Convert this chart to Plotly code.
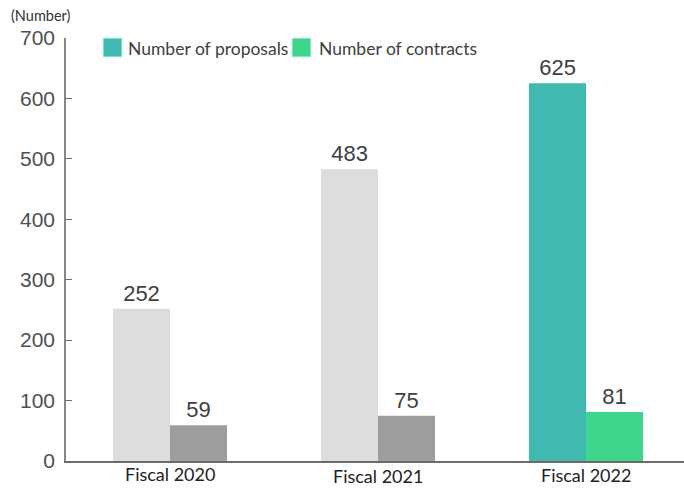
import plotly.graph_objects as go

# Proposal and contract counts by fiscal year
years = ["Fiscal 2020", "Fiscal 2021", "Fiscal 2022"]
proposals = [252, 483, 625]
contracts = [59, 75, 81]
y_ticks = [0, 100, 200, 300, 400, 500, 600, 700]

# Earlier years are muted in grey, the latest year is highlighted
proposal_colors = ["#dcdddc", "#dcdddc", "#40b9b0"]
contract_colors = ["#9d9e9d", "#9d9e9d", "#3dd68c"]
label_font = dict(family="Liberation Sans, Arial", size=22, color="#404040")

fig = go.Figure()
fig.add_trace(go.Bar(
    x=years, y=proposals, name="Number of proposals",
    marker=dict(color=proposal_colors, line=dict(width=0)),
    text=[str(v) for v in proposals], textposition="outside",
    textfont=label_font, cliponaxis=False, showlegend=False,
))
fig.add_trace(go.Bar(
    x=years, y=contracts, name="Number of contracts",
    marker=dict(color=contract_colors, line=dict(width=0)),
    text=[str(v) for v in contracts], textposition="outside",
    textfont=label_font, cliponaxis=False, showlegend=False,
))

# Category labels below the axis
shifts = [-1, -3, -2]
for yr, s in zip(years, shifts):
    fig.add_annotation(
        x=yr, y=0, xref="x", yref="paper", yanchor="top",
        text=yr, showarrow=False, yshift=s, borderpad=0,
        font=dict(family="Lato, Noto Sans", size=18, color="#222222"),
    )

# Legend drawn as colour swatches with captions
legend_items = [("Number of proposals", "#40b9b0", 103, 126),
                ("Number of contracts", "#3dd68c", 292, 317)]
for text, color, sx, tx in legend_items:
    fig.add_shape(type="rect", xref="paper", yref="paper",
                  x0=(sx - 66) / 618, x1=(sx + 19 - 66) / 618,
                  y0=(461 - 57) / 423, y1=(461 - 38) / 423,
                  fillcolor=color, line=dict(width=1, color="#d8f0ec"), layer="above")
    fig.add_annotation(xref="paper", yref="paper",
                       x=(tx - 66) / 618, y=(461 - 48) / 423,
                       xanchor="left", yanchor="middle", showarrow=False,
                       text=text, font=dict(family="Lato, Noto Sans", size=17.5, color="#404040"))

# Unit caption above the value axis
fig.add_annotation(xref="paper", yref="paper", x=-57 / 618, y=(461 - 15) / 423,
                   xanchor="left", yanchor="middle", showarrow=False,
                   text="(Number)", font=dict(family="Lato, Noto Sans", size=14.5, color="#333333"))

fig.update_layout(
    width=684, height=489,
    margin=dict(l=66, r=0, t=38, b=28),
    paper_bgcolor="white", plot_bgcolor="white",
    barmode="group", bargap=0.452, bargroupgap=0,
    xaxis=dict(range=[-0.5, 2.471], showticklabels=False, ticks="",
               showline=True, linecolor="#6e6a6a", linewidth=1.5,
               showgrid=False, zeroline=False, fixedrange=True),
    yaxis=dict(range=[0, 700], tickvals=y_ticks, ticks="inside", ticklen=6,
               tickcolor="#6e6a6a", tickwidth=1.2,
               showline=True, linecolor="#8a8585", linewidth=1.5,
               showgrid=False, zeroline=False,
               tickfont=dict(family="Liberation Sans, Arial", size=21, color="#505050"),
               ticklabelstandoff=5),
    font=dict(family="Liberation Sans, Arial"),
)

fig.write_html("out.html")
